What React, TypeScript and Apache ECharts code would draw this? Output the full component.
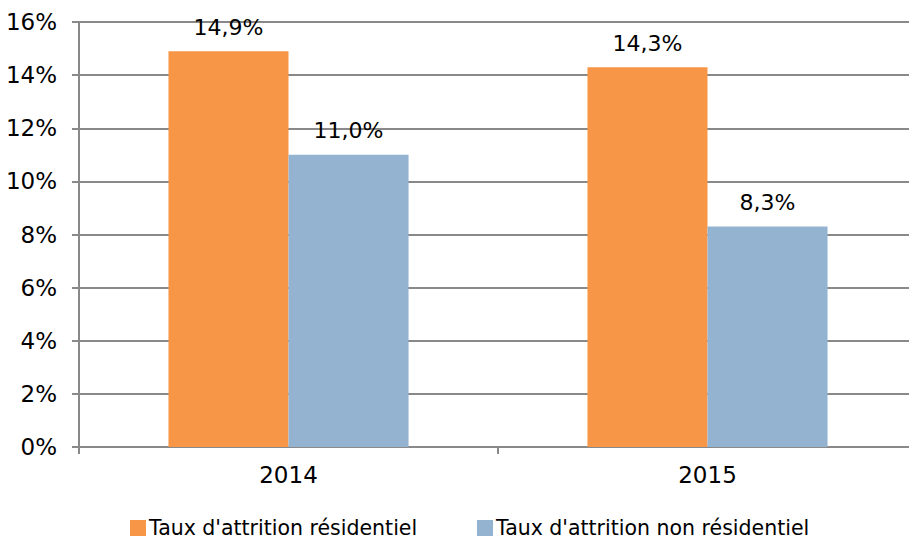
import React, { useEffect, useRef } from "react";
import * as echarts from "echarts";

const categories = ["2014", "2015"];
const seriesNames = ["Taux d'attrition résidentiel", "Taux d'attrition non résidentiel"];
const residentiel = [14.9, 14.3];
const nonResidentiel = [11.0, 8.3];
const yTicks = [0, 2, 4, 6, 8, 10, 12, 14, 16];

const FONT = "DejaVu Sans";
const GRAY = "#898989";
const fmt = (v: number) => v.toFixed(1).replace(".", ",") + "%";

export default function App() {
  const ref = useRef<HTMLDivElement>(null);
  useEffect(() => {
    if (!ref.current) return;
    const chart = echarts.init(ref.current, undefined, { renderer: "svg" });
    const labelCfg = {
      show: true,
      position: "top" as const,
      distance: 13,
      color: "#000",
      fontSize: 22,
      fontFamily: FONT,
      formatter: (p: any) => fmt(p.value),
    };
    const legendBase = {
      top: 517,
      padding: 0,
      itemWidth: 16,
      itemHeight: 16,
      icon: "rect",
      textStyle: { fontSize: 20.5, lineHeight: 22, color: "#000", fontFamily: FONT, padding: [0, 0, 0, -2] },
    };
    chart.setOption({
      animation: false,
      textStyle: { fontFamily: FONT },
      grid: { left: 79, top: 22, width: 838, height: 425, containLabel: false },
      legend: [
        { ...legendBase, left: 130, data: [seriesNames[0]] },
        { ...legendBase, left: 477, data: [seriesNames[1]] },
      ],
      xAxis: {
        type: "category",
        data: categories,
        axisLine: { lineStyle: { color: GRAY, width: 2 } },
        axisTick: { show: true, length: 7, lineStyle: { color: GRAY, width: 2 } },
        axisLabel: { fontSize: 23, color: "#000", margin: 16, fontFamily: FONT },
      },
      yAxis: {
        type: "value",
        min: yTicks[0],
        max: yTicks[yTicks.length - 1],
        interval: 2,
        axisLine: { show: true, lineStyle: { color: GRAY, width: 2 } },
        axisTick: { show: true, length: 7, lineStyle: { color: GRAY, width: 2 } },
        splitLine: { lineStyle: { color: GRAY, width: 2 } },
        axisLabel: { fontSize: 23, color: "#000", margin: 22, fontFamily: FONT, formatter: (v: number) => v + "%" },
      },
      series: [
        {
          name: seriesNames[0],
          type: "bar",
          data: residentiel,
          barGap: "0%",
          barCategoryGap: "42.7%",
          itemStyle: { color: "#F79646" },
          label: labelCfg,
        },
        {
          name: seriesNames[1],
          type: "bar",
          data: nonResidentiel,
          barGap: "0%",
          barCategoryGap: "42.7%",
          itemStyle: { color: "#93B3D0" },
          label: labelCfg,
        },
      ],
    });
    return () => chart.dispose();
  }, []);
  return (
    <div style={{ position: "fixed", left: 0, top: 0, width: 909, height: 540, overflow: "hidden", background: "#fff" }}>
      <div ref={ref} style={{ width: 930, height: 540 }} />
    </div>
  );
}
